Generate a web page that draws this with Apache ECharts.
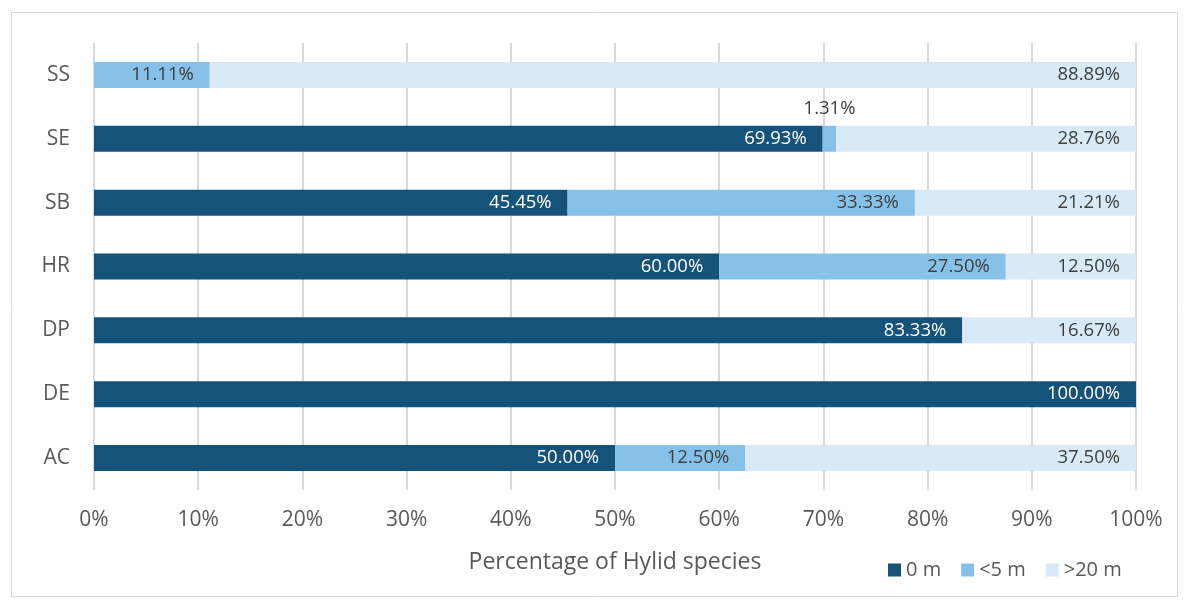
<!DOCTYPE html>
<html>
<head>
<meta charset="utf-8">
<style>
  html, body { margin: 0; padding: 0; background: #fff; }
  #chart { width: 1189px; height: 608px; }
</style>
<script src="https://cdn.jsdelivr.net/npm/echarts@6/dist/echarts.min.js"></script>
</head>
<body>
<div id="chart"></div>
<script>
// categories, bottom to top
var sites = ['AC', 'DE', 'DP', 'HR', 'SB', 'SE', 'SS']
var zeroM = [50.00, 100.00, 83.33, 60.00, 45.45, 69.93, 0]
var under5 = [12.50, 0, 0, 27.50, 33.33, 1.31, 11.11]
var over20 = [37.50, 0, 16.67, 12.50, 21.21, 28.76, 88.89]
var seriesNames = ['0 m', '<5 m', '>20 m']
var colors = ['#15537a', '#85c1e9', '#d9e9f7']

var fontFam = '"Open Sans", "Noto Sans", sans-serif'

function pctLabel (p) {
  return p.value ? p.value.toFixed(2) + '%' : ''
}

// small values get their label above the bar
function withLabels (arr) {
  return arr.map(function (v) {
    if (v > 0 && v < 5) {
      return { value: v, label: { position: 'top', distance: 8, color: '#404040' } }
    }
    return v
  })
}

var myChart = echarts.init(document.getElementById('chart'))
var option = {
  animation: false,
  textStyle: { fontFamily: fontFam },
  graphic: [{
    type: 'rect',
    shape: { x: 11.5, y: 12.5, width: 1166, height: 584 },
    style: { fill: 'none', stroke: '#d9d9d9', lineWidth: 1 }
  }],
  grid: { left: 94, right: 53, top: 43, bottom: 118 },
  legend: {
    left: 883,
    top: 555,
    itemWidth: 13,
    itemHeight: 13,
    itemGap: 20,
    icon: 'rect',
    textStyle: { fontSize: 20, color: '#595959', fontFamily: fontFam },
    data: seriesNames
  },
  xAxis: {
    type: 'value',
    min: 0,
    max: 100,
    interval: 10,
    name: 'Percentage of Hylid species',
    nameLocation: 'middle',
    nameGap: 61,
    nameTextStyle: { fontSize: 23, color: '#595959' },
    axisLabel: { formatter: '{value}%', fontSize: 21, color: '#595959', margin: 20 },
    axisLine: { show: false },
    axisTick: { show: false },
    splitLine: { lineStyle: { color: '#d9d9d9', width: 2 } }
  },
  yAxis: {
    type: 'category',
    data: sites,
    axisLabel: { fontSize: 21, color: '#595959', margin: 24 },
    axisLine: { show: false },
    axisTick: { show: false }
  },
  series: [zeroM, under5, over20].map(function (arr, i) {
    return {
      name: seriesNames[i],
      type: 'bar',
      stack: 'total',
      barWidth: 26,
      itemStyle: { color: colors[i] },
      label: {
        show: true,
        position: 'insideRight',
        distance: 16,
        fontSize: 18.5,
        color: i === 0 ? '#ffffff' : '#404040',
        formatter: pctLabel
      },
      data: withLabels(arr)
    }
  })
}
myChart.setOption(option)
</script>
</body>
</html>
